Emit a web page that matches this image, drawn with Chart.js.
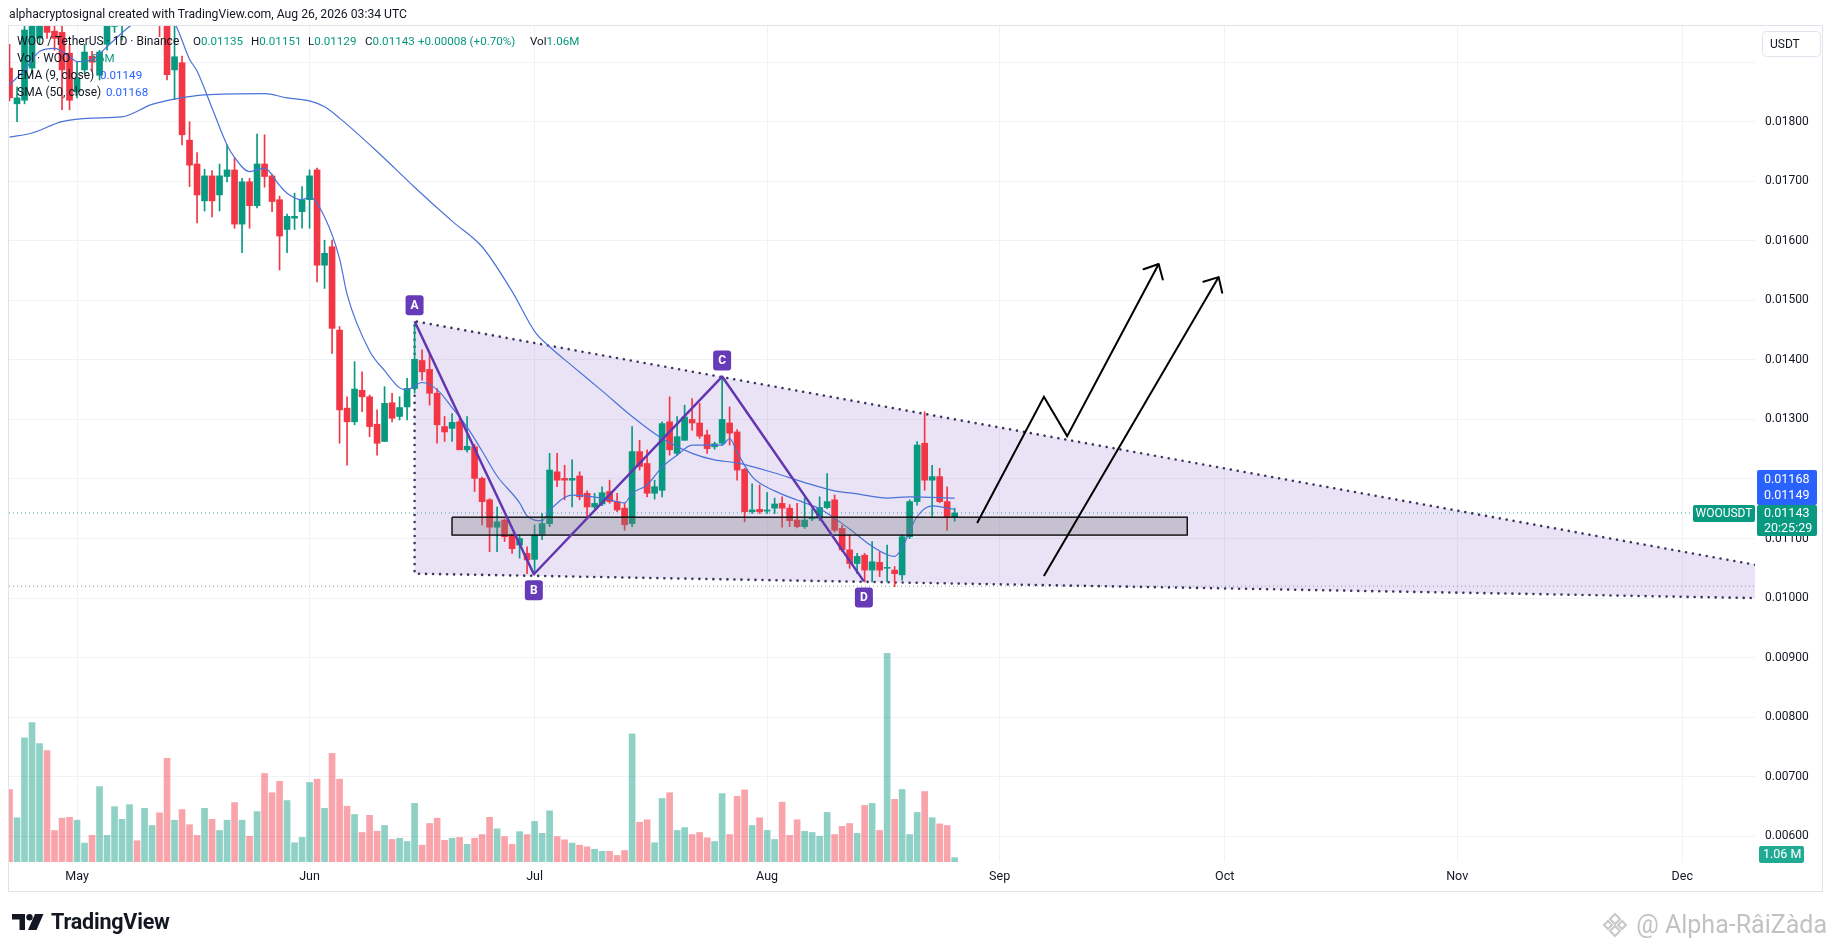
<!DOCTYPE html>
<html>
<head>
<meta charset="utf-8">
<title>WOO / TetherUS 1D</title>
<script src="https://cdn.jsdelivr.net/npm/chart.js@4.4.1/dist/chart.umd.min.js"></script>
<style>
  html, body { margin: 0; padding: 0; background: #fff; }
  body {
    width: 1835px; height: 951px; position: relative; overflow: hidden;
    font-family: Roboto, "Liberation Sans", sans-serif; color: #131722;
  }
  #chart { position: absolute; left: 0; top: 0; }
  .frame {
    position: absolute; left: 8px; top: 25px; width: 1813px; height: 865px;
    border: 1px solid #e0e3eb; pointer-events: none;
  }
  .caption { position: absolute; left: 9px; top: 7px; font-size: 12.2px; }
  .legend { position: absolute; left: 0; top: 33px; width: 700px; font-size: 11.6px; }
  .legend .row { position: relative; height: 17px; line-height: 17px; }
  .legend .row > span { position: absolute; top: 0; white-space: nowrap; }
  .legend .title { font-size: 12px; }
  .up { color: #089981; }
  .ma { color: #2962ff; }
  .tvlogo {
    position: absolute; left: 12px; top: 909px; display: flex; align-items: center;
    font-size: 21.5px; font-weight: bold; letter-spacing: -0.2px;
  }
  .tvlogo svg { margin-right: 7px; }
  .wm {
    position: absolute; right: 8px; top: 910px; display: flex; align-items: center;
    font-size: 25px; color: #c2c2c2;
  }
  .wm svg { margin-right: 8px; }
</style>
</head>
<body>
<canvas id="chart" width="1835" height="951"></canvas>
<div class="frame"></div>
<div class="caption">alphacryptosignal created with TradingView.com, Aug 26, 2026 03:34 UTC</div>
<div class="legend" id="legend"></div>
<div class="tvlogo">
  <svg width="32" height="18" viewBox="0 0 32 18">
    <path d="M0 1h13v16H7.5V6.5H0z" fill="#131722"/>
    <circle cx="17.5" cy="4.2" r="3.2" fill="#131722"/>
    <path d="M23 1h8.5l-7 16h-8.5z" fill="#131722"/>
  </svg>
  <span>TradingView</span>
</div>
<div class="wm">
  <svg width="26" height="26" viewBox="0 0 26 26">
    <g fill="none" stroke="#c8c8c8" stroke-width="2">
      <path d="M13 2l5 5-5 5-5-5z"/><path d="M13 14l5 5-5 5-5-5z"/>
      <path d="M2 13l4-4 4 4-4 4z"/><path d="M16 13l4-4 4 4-4 4z"/>
    </g>
  </svg>
  <span>@ Alpha-RâiZàda</span>
</div>
<script>
// Daily candles, WOO/USDT. Day numbers count from May 1 (= 0); first candle is Apr 22.
const startDay = -9;

const opens = [
  0.01890, 0.01830, 0.01836, 0.01890, 0.01940, 0.02000, 0.01952, 0.01950, 0.01915, 0.01850,
  0.01887, 0.01910, 0.01878, 0.01930, 0.01960, 0.01970, 0.01980, 0.02010, 0.01990, 0.02030,
  0.02050, 0.02000, 0.01887, 0.01899, 0.01769, 0.01729, 0.01667, 0.01709, 0.01677, 0.01708,
  0.01719, 0.01628, 0.01699, 0.01659, 0.01729, 0.01709, 0.01669, 0.01619, 0.01638, 0.01649,
  0.01669, 0.01719, 0.01559, 0.01590, 0.01450, 0.01319, 0.01296, 0.01349, 0.01338, 0.01292,
  0.01263, 0.01328, 0.01305, 0.01321, 0.01352, 0.01399, 0.01384, 0.01344, 0.01288, 0.01285,
  0.01296, 0.01249, 0.01254, 0.01201, 0.01165, 0.01119, 0.01131, 0.01106, 0.01089, 0.01075,
  0.01065, 0.01106, 0.01125, 0.01212, 0.01201, 0.01198, 0.01205, 0.01176, 0.01153, 0.01158,
  0.01179, 0.01162, 0.01151, 0.01125, 0.01246, 0.01226, 0.01176, 0.01181, 0.01296, 0.01243,
  0.01265, 0.01300, 0.01294, 0.01274, 0.01254, 0.01260, 0.01294, 0.01279, 0.01216, 0.01145,
  0.01149, 0.01146, 0.01151, 0.01159, 0.01151, 0.01131, 0.01120, 0.01133, 0.01134, 0.01152,
  0.01165, 0.01117, 0.01081, 0.01058, 0.01072, 0.01047, 0.01060, 0.01050, 0.01047, 0.01039,
  0.01103, 0.01162, 0.01260, 0.01198, 0.01204, 0.01162, 0.01135
];
const highs = [
  0.01930, 0.01858, 0.01960, 0.02000, 0.02010, 0.02010, 0.01970, 0.01960, 0.01930, 0.01900,
  0.01930, 0.01918, 0.01920, 0.01990, 0.01990, 0.02010, 0.02030, 0.02030, 0.02050, 0.02070,
  0.02060, 0.02010, 0.01970, 0.01910, 0.01800, 0.01748, 0.01720, 0.01718, 0.01729, 0.01761,
  0.01739, 0.01705, 0.01705, 0.01779, 0.01778, 0.01712, 0.01675, 0.01645, 0.01680, 0.01691,
  0.01719, 0.01722, 0.01601, 0.01601, 0.01456, 0.01338, 0.01397, 0.01380, 0.01341, 0.01316,
  0.01355, 0.01344, 0.01338, 0.01369, 0.01460, 0.01417, 0.01411, 0.01352, 0.01305, 0.01310,
  0.01305, 0.01305, 0.01258, 0.01203, 0.01167, 0.01153, 0.01133, 0.01108, 0.01106, 0.01086,
  0.01123, 0.01142, 0.01243, 0.01243, 0.01223, 0.01232, 0.01212, 0.01180, 0.01176, 0.01187,
  0.01198, 0.01176, 0.01159, 0.01288, 0.01265, 0.01249, 0.01198, 0.01296, 0.01338, 0.01305,
  0.01324, 0.01335, 0.01327, 0.01282, 0.01262, 0.01372, 0.01321, 0.01283, 0.01218, 0.01192,
  0.01190, 0.01177, 0.01168, 0.01170, 0.01157, 0.01159, 0.01168, 0.01150, 0.01170, 0.01209,
  0.01173, 0.01122, 0.01106, 0.01075, 0.01075, 0.01095, 0.01078, 0.01089, 0.01053, 0.01106,
  0.01165, 0.01263, 0.01313, 0.01223, 0.01218, 0.01187, 0.01151
];
const lows = [
  0.01835, 0.01800, 0.01830, 0.01880, 0.01930, 0.01940, 0.01920, 0.01820, 0.01820, 0.01840,
  0.01880, 0.01885, 0.01870, 0.01920, 0.01950, 0.01937, 0.01960, 0.01970, 0.01980, 0.02010,
  0.01943, 0.01870, 0.01837, 0.01761, 0.01691, 0.01630, 0.01650, 0.01640, 0.01650, 0.01699,
  0.01621, 0.01580, 0.01621, 0.01655, 0.01690, 0.01649, 0.01551, 0.01580, 0.01619, 0.01621,
  0.01621, 0.01531, 0.01520, 0.01411, 0.01260, 0.01223, 0.01291, 0.01313, 0.01271, 0.01240,
  0.01263, 0.01296, 0.01299, 0.01299, 0.01344, 0.01366, 0.01324, 0.01260, 0.01263, 0.01263,
  0.01249, 0.01245, 0.01179, 0.01123, 0.01078, 0.01078, 0.01095, 0.01075, 0.01067, 0.01041,
  0.01044, 0.01098, 0.01120, 0.01187, 0.01165, 0.01153, 0.01165, 0.01137, 0.01150, 0.01155,
  0.01159, 0.01145, 0.01114, 0.01120, 0.01215, 0.01170, 0.01166, 0.01170, 0.01240, 0.01240,
  0.01265, 0.01282, 0.01268, 0.01243, 0.01250, 0.01257, 0.01257, 0.01198, 0.01128, 0.01142,
  0.01142, 0.01142, 0.01142, 0.01119, 0.01120, 0.01118, 0.01117, 0.01130, 0.01130, 0.01150,
  0.01111, 0.01078, 0.01050, 0.01041, 0.01027, 0.01027, 0.01036, 0.01027, 0.01019, 0.01030,
  0.01100, 0.01156, 0.01181, 0.01137, 0.01160, 0.01114, 0.01129
];
const closes = [
  0.01840, 0.01840, 0.01954, 0.01980, 0.01990, 0.01950, 0.01940, 0.01887, 0.01836, 0.01873,
  0.01917, 0.01900, 0.01917, 0.01970, 0.01970, 0.01990, 0.02010, 0.01990, 0.02030, 0.02050,
  0.02000, 0.01879, 0.01909, 0.01778, 0.01727, 0.01677, 0.01709, 0.01667, 0.01709, 0.01719,
  0.01628, 0.01699, 0.01659, 0.01729, 0.01708, 0.01666, 0.01608, 0.01641, 0.01641, 0.01669,
  0.01709, 0.01559, 0.01579, 0.01453, 0.01316, 0.01296, 0.01351, 0.01338, 0.01288, 0.01260,
  0.01327, 0.01302, 0.01320, 0.01352, 0.01401, 0.01380, 0.01344, 0.01291, 0.01279, 0.01295,
  0.01249, 0.01255, 0.01201, 0.01162, 0.01119, 0.01128, 0.01103, 0.01083, 0.01100, 0.01064,
  0.01106, 0.01125, 0.01215, 0.01198, 0.01198, 0.01201, 0.01170, 0.01153, 0.01159, 0.01177,
  0.01162, 0.01148, 0.01123, 0.01246, 0.01221, 0.01176, 0.01187, 0.01293, 0.01249, 0.01271,
  0.01304, 0.01294, 0.01272, 0.01251, 0.01259, 0.01300, 0.01277, 0.01215, 0.01145, 0.01148,
  0.01145, 0.01148, 0.01158, 0.01151, 0.01130, 0.01120, 0.01131, 0.01135, 0.01152, 0.01162,
  0.01114, 0.01081, 0.01058, 0.01070, 0.01047, 0.01061, 0.01047, 0.01051, 0.01041, 0.01103,
  0.01162, 0.01257, 0.01198, 0.01204, 0.01162, 0.01135, 0.01143
];
// volume in millions of WOO
const volumes = [
  17.7, 10.8, 30.3, 34.0, 28.9, 27.2, 7.7, 10.7, 10.9, 10.2,
  4.6, 6.5, 18.4, 6.5, 13.5, 10.4, 14.0, 5.2, 13.1, 8.9,
  12.0, 25.3, 10.2, 12.8, 9.1, 6.5, 13.1, 10.4, 7.7, 10.2,
  14.5, 10.2, 6.3, 12.3, 21.6, 16.9, 19.7, 15.0, 4.7, 6.0,
  19.4, 20.2, 13.1, 26.5, 20.2, 13.6, 11.6, 7.2, 11.4, 7.5,
  8.9, 5.5, 5.8, 5.0, 14.3, 4.1, 9.4, 10.7, 5.3, 5.8,
  6.0, 4.3, 5.8, 6.7, 10.9, 8.1, 6.2, 4.3, 7.4, 6.7,
  9.9, 7.0, 12.5, 6.2, 5.4, 4.6, 4.1, 3.7, 3.1, 2.6,
  2.6, 1.6, 2.8, 31.3, 9.7, 10.3, 4.7, 15.5, 16.9, 7.7,
  8.4, 6.7, 7.2, 5.9, 5.0, 16.7, 6.7, 16.0, 17.6, 8.9,
  10.8, 7.7, 5.5, 14.6, 6.5, 10.3, 7.5, 7.2, 6.3, 12.1,
  6.7, 8.7, 9.4, 7.0, 13.8, 14.3, 7.7, 50.9, 15.3, 17.7,
  6.7, 12.1, 17.2, 10.8, 9.3, 8.9, 1.06
];

// moving averages
const emaDays = [-9, -7, -5, -3, -1, 0, 2, 4, 7, 10, 13, 15, 16, 18, 20, 21, 23, 25, 27, 28, 30, 31,
  33, 35, 36, 39, 41, 43, 44, 46, 48, 50, 52, 54, 56, 59, 60, 62, 63, 66, 70, 73, 74, 76, 78, 80,
  82, 86, 87, 88, 90, 93, 97, 99, 103, 106, 109, 110, 112, 114, 116, 117];
const emaValues = [0.01862, 0.01887, 0.01918, 0.01923, 0.01909, 0.01901, 0.01904, 0.01926, 0.01960,
  0.01985, 0.01965, 0.01905, 0.01885, 0.01823, 0.01761, 0.01740, 0.01716, 0.01722, 0.01693, 0.01680,
  0.01669, 0.01674, 0.01640, 0.01570, 0.01510, 0.01415, 0.01382, 0.01353, 0.01350, 0.01362, 0.01350,
  0.01320, 0.01287, 0.01247, 0.01205, 0.01160, 0.01138, 0.01130, 0.01147, 0.01173, 0.01168, 0.01160,
  0.01176, 0.01190, 0.01220, 0.01240, 0.01257, 0.01257, 0.01268, 0.01245, 0.01204, 0.01180, 0.01160,
  0.01150, 0.01116, 0.01087, 0.01070, 0.01085, 0.01137, 0.01155, 0.01151, 0.01149];
const smaDays = [-9, -6, -2, 2, 6, 10, 13, 17, 25, 28, 31, 33, 35, 40, 45, 50, 54, 58, 61, 63, 66,
  70, 74, 78, 82, 85, 88, 93, 97, 101, 104, 108, 111, 117];
const smaValues = [0.01774, 0.01781, 0.01800, 0.01806, 0.01808, 0.01829, 0.01838, 0.01845, 0.01847,
  0.01840, 0.01835, 0.01825, 0.01806, 0.01750, 0.01690, 0.01633, 0.01590, 0.01515, 0.01448, 0.01422,
  0.01390, 0.01348, 0.01305, 0.01268, 0.01243, 0.01232, 0.01227, 0.01210, 0.01194, 0.01180, 0.01175,
  0.01168, 0.01170, 0.01168];

// drawings
const patternLabels = ['A', 'B', 'C', 'D'];
const patternDays = [45, 60.9, 86, 104.9];
const patternPrices = [0.01465, 0.01040, 0.01372, 0.01028];
const patternAbove = [true, false, true, false];
const triangleDays = [45, 223.7];
const triangleUpper = [0.01465, 0.01056];
const triangleLower = [0.01041, 0.01000];
const zoneDays = [50, 148];
const zoneTop = 0.011357;
const zoneBottom = 0.01106;
const arrowUpDays = [120, 128.9, 132, 144.2];
const arrowUpPrices = [0.01126, 0.01338, 0.01272, 0.01561];
const arrowDirectDays = [128.9, 152.2];
const arrowDirectPrices = [0.01037, 0.01539];
const supportLine = 0.0102;
const countdown = '20:25:29';

// axes
const monthDays = [0, 31, 61, 92, 123, 153, 184, 214];
const monthLabels = ['May', 'Jun', 'Jul', 'Aug', 'Sep', 'Oct', 'Nov', 'Dec'];
const priceTicks = [0.006, 0.007, 0.008, 0.009, 0.010, 0.011, 0.012, 0.013, 0.014, 0.015,
  0.016, 0.017, 0.018, 0.019];
const hiddenTicks = [0.012, 0.019];
const xMin = -9.07, xMax = 223.7;
const priceMin = 0.005568, priceMax = 0.019607;
const volumeMax = 204;

const UP = '#089981', DOWN = '#f23645';
const UP_VOL = 'rgba(8, 153, 129, 0.45)', DOWN_VOL = 'rgba(242, 54, 69, 0.45)';
const MA_BLUE = '#2962ff', MA_LINE = '#4a72d8', PURPLE = '#673ab7';
const TEXT = '#131722', GRID = '#f0f2f6';
const FONT = 'Roboto, "Liberation Sans", sans-serif';

const last = closes.length - 1;
const days = closes.map((_, i) => startDay + i);
const isUp = closes.map((c, i) => c >= opens[i]);
const candleColors = isUp.map(u => (u ? UP : DOWN));
const volumeColors = isUp.map(u => (u ? UP_VOL : DOWN_VOL));
const toPoints = (xs, ys) => xs.map((x, i) => ({ x, y: ys[i] }));

// legend rows: [label, value, value class, left px]
const fmt = v => v.toFixed(5);
const change = closes[last] - closes[last - 1];
const changePct = (change / closes[last - 1]) * 100;
const legendRows = [
  [['WOO / TetherUS · 1D · Binance', '', 'title', 17],
   ['O', fmt(opens[last]), 'up', 193],
   ['H', fmt(highs[last]), 'up', 251],
   ['L', fmt(lows[last]), 'up', 308],
   ['C', fmt(closes[last]), 'up', 365],
   ['', `+${fmt(change)} (+${changePct.toFixed(2)}%)`, 'up', 418],
   ['Vol', volumes[last].toFixed(2) + 'M', 'up', 530]],
  [['Vol · WOO', '', 'title', 17], ['', volumes[last].toFixed(2) + 'M', 'up', 82]],
  [['EMA (9, close)', '', 'title', 17], ['', fmt(emaValues[emaValues.length - 1]), 'ma', 100]],
  [['SMA (50, close)', '', 'title', 17], ['', fmt(smaValues[smaValues.length - 1]), 'ma', 106]]
];
document.getElementById('legend').innerHTML = legendRows.map(row =>
  '<div class="row">' + row.map(([label, value, cls, left]) =>
    cls === 'title'
      ? `<span class="title" style="left:${left}px">${label}</span>`
      : `<span style="left:${left}px">${label}<span class="${cls}">${value}</span></span>`
  ).join('') + '</div>'
).join('');

const roundBox = (ctx, x, y, w, h, r, fill) => {
  ctx.fillStyle = fill;
  ctx.beginPath();
  ctx.roundRect(x, y, w, h, r);
  ctx.fill();
};

const drawingsPlugin = {
  id: 'drawings',
  afterDatasetsDraw(chart) {
    const { ctx } = chart;
    const xs = chart.scales.x, ys = chart.scales.y;
    ctx.save();
    // open arrow heads on the projected moves
    chart.data.datasets.forEach((ds, i) => {
      if (!ds.arrowHead) return;
      const pts = chart.getDatasetMeta(i).data;
      const tip = pts[pts.length - 1], prev = pts[pts.length - 2];
      const ang = Math.atan2(tip.y - prev.y, tip.x - prev.x);
      ctx.strokeStyle = ds.borderColor;
      ctx.lineWidth = ds.borderWidth;
      ctx.lineCap = 'round';
      ctx.lineJoin = 'round';
      ctx.beginPath();
      ctx.moveTo(tip.x - 16 * Math.cos(ang - 0.75), tip.y - 16 * Math.sin(ang - 0.75));
      ctx.lineTo(tip.x, tip.y);
      ctx.lineTo(tip.x - 16 * Math.cos(ang + 0.75), tip.y - 16 * Math.sin(ang + 0.75));
      ctx.stroke();
    });
    // A B C D tags
    ctx.font = 'bold 12px ' + FONT;
    ctx.textAlign = 'center';
    ctx.textBaseline = 'middle';
    patternLabels.forEach((label, i) => {
      const px = xs.getPixelForValue(patternDays[i]);
      const py = ys.getPixelForValue(patternPrices[i]) + (patternAbove[i] ? -16 : 16);
      roundBox(ctx, px - 9, py - 10, 18, 20, 3, PURPLE);
      ctx.fillStyle = '#fff';
      ctx.fillText(label, px, py + 0.5);
    });
    ctx.restore();
  },
  afterDraw(chart) {
    const { ctx, chartArea } = chart;
    const ys = chart.scales.y, yv = chart.scales.yv;
    const ax = chartArea.right + 2;
    ctx.save();
    ctx.textBaseline = 'middle';
    ctx.textAlign = 'left';
    // currency button
    ctx.fillStyle = '#fff';
    ctx.strokeStyle = '#e0e3eb';
    ctx.lineWidth = 1;
    ctx.beginPath();
    ctx.roundRect(chartArea.right + 7.5, chartArea.top + 5.5, 58, 25, 4);
    ctx.fill();
    ctx.stroke();
    ctx.fillStyle = TEXT;
    ctx.font = '12px ' + FONT;
    ctx.fillText('USDT', chartArea.right + 15, chartArea.top + 18.5);

    // last price with moving average tags stacked above it
    const greenTop = ys.getPixelForValue(closes[last]) - 8;
    roundBox(ctx, ax, greenTop - 35, 60, 35, 2, MA_BLUE);
    roundBox(ctx, ax, greenTop, 60, 31, 2, UP);
    ctx.font = '12.5px ' + FONT;
    ctx.fillStyle = '#fff';
    ctx.fillText(fmt(smaValues[smaValues.length - 1]), ax + 7, greenTop - 25);
    ctx.fillText(fmt(emaValues[emaValues.length - 1]), ax + 7, greenTop - 9);
    ctx.fillText(fmt(closes[last]), ax + 7, greenTop + 9);
    ctx.fillText(countdown, ax + 7, greenTop + 24);

    // symbol tag on the price line
    roundBox(ctx, chartArea.right - 62, greenTop, 62, 17, 2, UP);
    ctx.fillStyle = '#fff';
    ctx.font = '12px ' + FONT;
    ctx.textAlign = 'center';
    ctx.fillText('WOOUSDT', chartArea.right - 31, greenTop + 9);

    // volume tag
    const vy = Math.min(yv.getPixelForValue(volumes[last]), chartArea.bottom - 7);
    roundBox(ctx, ax + 2, vy - 9, 45, 17, 2, '#22ab94');
    ctx.fillStyle = '#fff';
    ctx.font = '12.5px ' + FONT;
    ctx.textAlign = 'left';
    ctx.fillText(volumes[last].toFixed(2) + ' M', ax + 6, vy);
    ctx.restore();
  }
};

const lineBase = { type: 'line', pointRadius: 0, pointHoverRadius: 0, fill: false };

new Chart(document.getElementById('chart'), {
  type: 'bar',
  data: {
    datasets: [
      {
        label: 'Volume', yAxisID: 'yv', order: 10, grouped: false, barThickness: 6,
        data: toPoints(days, volumes), backgroundColor: volumeColors
      },
      {
        ...lineBase, label: 'Support', order: 9, borderColor: '#9598a1', borderWidth: 1, borderDash: [1, 3],
        data: toPoints([xMin, xMax], [supportLine, supportLine])
      },
      {
        ...lineBase, label: 'Last price', order: 9, borderColor: 'rgba(8, 153, 129, 0.8)', borderWidth: 1,
        borderDash: [1, 3], data: toPoints([xMin, xMax], [closes[last], closes[last]])
      },
      {
        ...lineBase, label: 'Triangle fill', order: 8, borderWidth: 0,
        fill: '+1', backgroundColor: 'rgba(149, 117, 205, 0.2)',
        data: toPoints(triangleDays, triangleUpper)
      },
      {
        ...lineBase, label: 'Triangle lower', order: 8, borderWidth: 0,
        data: toPoints(triangleDays, triangleLower)
      },
      {
        ...lineBase, label: 'Triangle edges', order: 7, borderColor: '#3a3660', borderWidth: 2.6,
        borderDash: [0.01, 7], borderCapStyle: 'round',
        data: toPoints(
          [triangleDays[1], triangleDays[0], triangleDays[0], triangleDays[1]],
          [triangleUpper[1], triangleUpper[0], triangleLower[0], triangleLower[1]])
      },
      {
        label: 'Wicks', order: 6, grouped: false, barThickness: 1,
        data: days.map((d, i) => ({ x: d, y: [lows[i], highs[i]] })), backgroundColor: candleColors
      },
      {
        label: 'Bodies', order: 5, grouped: false, barThickness: 6, minBarLength: 1,
        data: days.map((d, i) => ({ x: d, y: [opens[i], closes[i]] })), backgroundColor: candleColors
      },
      {
        ...lineBase, label: 'SMA 50', order: 4, borderColor: MA_LINE, borderWidth: 1.2,
        cubicInterpolationMode: 'monotone', data: toPoints(smaDays, smaValues)
      },
      {
        ...lineBase, label: 'EMA 9', order: 4, borderColor: MA_LINE, borderWidth: 1.2,
        cubicInterpolationMode: 'monotone', data: toPoints(emaDays, emaValues)
      },
      {
        ...lineBase, label: 'Zone fill', order: 3, borderWidth: 0,
        fill: '+1', backgroundColor: 'rgba(120, 123, 134, 0.33)',
        data: toPoints(zoneDays, [zoneTop, zoneTop])
      },
      {
        ...lineBase, label: 'Zone bottom', order: 3, borderWidth: 0,
        data: toPoints(zoneDays, [zoneBottom, zoneBottom])
      },
      {
        ...lineBase, label: 'Zone edge', order: 3, borderColor: '#000', borderWidth: 1.5,
        data: toPoints(
          [zoneDays[0], zoneDays[1], zoneDays[1], zoneDays[0], zoneDays[0]],
          [zoneTop, zoneTop, zoneBottom, zoneBottom, zoneTop])
      },
      {
        ...lineBase, label: 'ABCD', order: 2, borderColor: '#6236b0', borderWidth: 2.5,
        borderJoinStyle: 'round', data: toPoints(patternDays, patternPrices)
      },
      {
        ...lineBase, label: 'Projection', order: 1, borderColor: '#000', borderWidth: 2,
        borderJoinStyle: 'miter', arrowHead: true, data: toPoints(arrowUpDays, arrowUpPrices)
      },
      {
        ...lineBase, label: 'Direct projection', order: 1, borderColor: '#000', borderWidth: 2,
        arrowHead: true, data: toPoints(arrowDirectDays, arrowDirectPrices)
      }
    ]
  },
  options: {
    responsive: false,
    animation: false,
    layout: { padding: { left: 9, top: 26, right: 13, bottom: 60 } },
    plugins: { legend: { display: false }, tooltip: { enabled: false } },
    events: [],
    scales: {
      x: {
        type: 'linear', min: xMin, max: xMax, offset: false,
        grid: { color: GRID, drawTicks: false, offset: false },
        border: { display: false },
        afterBuildTicks: s => { s.ticks = monthDays.map(v => ({ value: v })); },
        afterFit: s => { s.height = 29; },
        ticks: {
          autoSkip: false, maxRotation: 0, padding: 7, color: TEXT,
          font: { size: 12.5, family: FONT },
          callback: v => monthLabels[monthDays.indexOf(v)] || ''
        }
      },
      y: {
        type: 'linear', position: 'right', min: priceMin, max: priceMax,
        grid: { color: GRID, drawTicks: false },
        border: { display: false },
        afterBuildTicks: s => { s.ticks = priceTicks.map(v => ({ value: v })); },
        afterFit: s => { s.width = 67; },
        ticks: {
          padding: 10, color: TEXT, font: { size: 12, family: FONT },
          callback: v => (hiddenTicks.includes(v) ? '' : v.toFixed(5))
        }
      },
      yv: { type: 'linear', display: false, min: 0, max: volumeMax }
    }
  },
  plugins: [drawingsPlugin]
});
</script>
</body>
</html>
